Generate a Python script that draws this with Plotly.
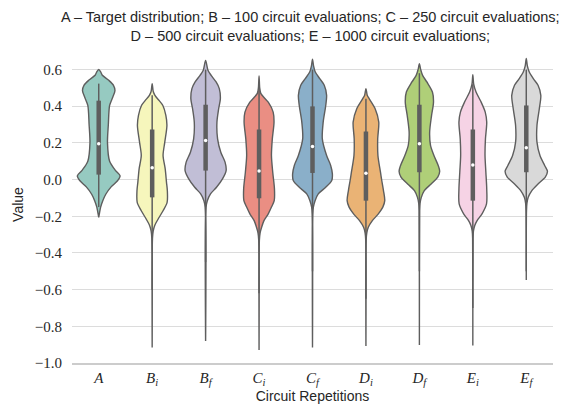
import colorsys
import plotly.graph_objects as go

# Category labels (math style) and names
categories = ["A", "B_i", "B_f", "C_i", "C_f", "D_i", "D_f", "E_i", "E_f"]
tick_labels = [
    "<i>A</i>",
    "<i>B</i><sub><i>i</i></sub>", "<i>B</i><sub><i>f</i></sub>",
    "<i>C</i><sub><i>i</i></sub>", "<i>C</i><sub><i>f</i></sub>",
    "<i>D</i><sub><i>i</i></sub>", "<i>D</i><sub><i>f</i></sub>",
    "<i>E</i><sub><i>i</i></sub>", "<i>E</i><sub><i>f</i></sub>",
]

# Density profiles: value levels and relative density (1.0 = widest violin)
A_y = [0.600, 0.585, 0.570, 0.541, 0.514, 0.486, 0.450, 0.404, 0.30, 0.20, 0.10, 0.05, 0.02, -0.005, -0.04, -0.08, -0.115, -0.15, -0.18, -0.206]
A_d = [0.0, 0.10, 0.16, 0.47, 0.69, 0.76, 0.66, 0.51, 0.45, 0.41, 0.51, 0.78, 1.0, 0.89, 0.58, 0.33, 0.19, 0.09, 0.04, 0.0]

Bi_y = [0.523, 0.48, 0.459, 0.43, 0.404, 0.35, 0.295, 0.204, 0.131, 0.058, -0.015, -0.06, -0.124, -0.17, -0.215, -0.25, -0.28, -0.32, -0.916]
Bi_d = [0.0, 0.05, 0.13, 0.33, 0.50, 0.64, 0.69, 0.59, 0.51, 0.61, 0.67, 0.71, 0.70, 0.51, 0.28, 0.12, 0.05, 0.015, 0.0]

Bf_y = [0.65, 0.596, 0.568, 0.532, 0.496, 0.44, 0.386, 0.313, 0.222, 0.149, 0.095, 0.049, 0.004, -0.042, -0.078, -0.115, -0.15, -0.88]
Bf_d = [0.0, 0.11, 0.26, 0.49, 0.64, 0.69, 0.61, 0.53, 0.56, 0.71, 0.91, 0.96, 0.79, 0.51, 0.23, 0.08, 0.02, 0.0]

Ci_y = [0.565, 0.50, 0.47, 0.445, 0.422, 0.368, 0.313, 0.222, 0.131, 0.04, -0.05, -0.115, -0.15, -0.187, -0.224, -0.26, -0.29, -0.33, -0.929]
Ci_d = [0.0, 0.03, 0.08, 0.25, 0.43, 0.66, 0.70, 0.62, 0.58, 0.64, 0.72, 0.71, 0.58, 0.43, 0.23, 0.12, 0.05, 0.015, 0.0]

Cf_y = [0.656, 0.62, 0.586, 0.55, 0.514, 0.459, 0.404, 0.313, 0.222, 0.131, 0.077, 0.031, -0.005, -0.042, -0.078, -0.115, -0.15, -0.19, -0.916]
Cf_d = [0.0, 0.05, 0.13, 0.34, 0.55, 0.66, 0.62, 0.50, 0.46, 0.66, 0.85, 0.93, 0.90, 0.62, 0.27, 0.12, 0.04, 0.01, 0.0]

Di_y = [0.496, 0.46, 0.441, 0.386, 0.313, 0.222, 0.131, 0.04, -0.005, -0.06, -0.115, -0.15, -0.187, -0.224, -0.26, -0.29, -0.33, -0.907]
Di_d = [0.0, 0.06, 0.15, 0.43, 0.60, 0.55, 0.56, 0.68, 0.74, 0.82, 0.88, 0.79, 0.58, 0.30, 0.11, 0.04, 0.01, 0.0]

Df_y = [0.632, 0.60, 0.568, 0.532, 0.477, 0.422, 0.35, 0.259, 0.186, 0.131, 0.077, 0.045, 0.013, -0.024, -0.06, -0.097, -0.13, -0.17, -0.902]
Df_d = [0.0, 0.06, 0.15, 0.35, 0.61, 0.66, 0.57, 0.48, 0.52, 0.68, 0.88, 0.95, 0.86, 0.55, 0.23, 0.09, 0.03, 0.01, 0.0]

Ei_y = [0.572, 0.52, 0.477, 0.422, 0.368, 0.313, 0.222, 0.131, 0.04, -0.05, -0.133, -0.187, -0.224, -0.25, -0.28, -0.32, -0.904]
Ei_d = [0.0, 0.04, 0.15, 0.39, 0.58, 0.65, 0.59, 0.57, 0.61, 0.65, 0.64, 0.43, 0.20, 0.09, 0.03, 0.01, 0.0]

Ef_y = [0.66, 0.62, 0.586, 0.55, 0.514, 0.459, 0.386, 0.295, 0.204, 0.131, 0.077, 0.045, 0.013, -0.024, -0.06, -0.097, -0.13, -0.17, -0.548]
Ef_d = [0.0, 0.05, 0.14, 0.33, 0.55, 0.68, 0.61, 0.50, 0.50, 0.64, 0.86, 0.99, 0.89, 0.55, 0.26, 0.09, 0.03, 0.01, 0.0]

profiles_y = [A_y, Bi_y, Bf_y, Ci_y, Cf_y, Di_y, Df_y, Ei_y, Ef_y]
profiles_d = [A_d, Bi_d, Bf_d, Ci_d, Cf_d, Di_d, Df_d, Ei_d, Ef_d]

# Box statistics per category
q1 = [0.027, -0.097, 0.049, -0.102, 0.036, -0.115, 0.040, -0.115, 0.040]
median = [0.195, 0.064, 0.213, 0.047, 0.180, 0.035, 0.195, 0.080, 0.173]
q3 = [0.430, 0.273, 0.408, 0.273, 0.399, 0.262, 0.408, 0.273, 0.404]
whisker_lo = [-0.150, -0.600, -0.450, -0.620, -0.500, -0.650, -0.500, -0.700, -0.500]
whisker_hi = [0.523, 0.460, 0.600, 0.500, 0.600, 0.440, 0.580, 0.520, 0.600]

# Set3 palette, desaturated like seaborn's default
set3 = ["#8dd3c7", "#ffffb3", "#bebada", "#fb8072", "#80b1d3",
        "#fdb462", "#b3de69", "#fccde5", "#d9d9d9"]


def desaturate(hex_color, prop=0.75):
    r, g, b = (int(hex_color[i:i + 2], 16) / 255 for i in (1, 3, 5))
    h, l, s = colorsys.rgb_to_hls(r, g, b)
    r, g, b = colorsys.hls_to_rgb(h, l, s * prop)
    return "rgb({},{},{})".format(round(r * 255), round(g * 255), round(b * 255))


fill_colors = [desaturate(c) for c in set3]
edge = "#5e5e5e"
half_width = 0.4
sans = "Liberation Sans, Arial, sans-serif"
serif = "Liberation Serif, Times New Roman, serif"

fig = go.Figure()

for i, (ys, ds) in enumerate(zip(profiles_y, profiles_d)):
    xs_right = [i + half_width * d for d in ds]
    xs_left = [i - half_width * d for d in reversed(ds)]
    fig.add_trace(go.Scatter(
        x=xs_right + xs_left,
        y=list(ys) + list(reversed(ys)),
        mode="lines",
        fill="toself",
        fillcolor=fill_colors[i],
        line=dict(color=edge, width=1.4, shape="spline", smoothing=0.8),
        hoverinfo="skip",
        showlegend=False,
    ))
    # whisker
    fig.add_trace(go.Scatter(
        x=[i, i], y=[whisker_lo[i], whisker_hi[i]], mode="lines",
        line=dict(color=edge, width=1.5), showlegend=False, hoverinfo="skip"))
    # interquartile box
    fig.add_trace(go.Scatter(
        x=[i, i], y=[q1[i], q3[i]], mode="lines",
        line=dict(color=edge, width=4.5), showlegend=False, hoverinfo="skip"))
    # median
    fig.add_trace(go.Scatter(
        x=[i], y=[median[i]], mode="markers",
        marker=dict(color="white", size=3.5, line=dict(width=0)),
        showlegend=False, hoverinfo="skip"))

title_text = ("A – Target distribution; B – 100 circuit evaluations; C – 250 circuit evaluations;"
              "<br>D – 500 circuit evaluations; E – 1000 circuit evaluations;")

fig.add_annotation(
    text=title_text, xref="paper", yref="paper", x=0.495, y=1.0,
    xanchor="center", yanchor="bottom", yshift=7, showarrow=False, align="center",
    font=dict(family=sans, size=14.5, color="#262626"),
)

# y-axis label
fig.add_annotation(
    text="Value", xref="paper", yref="paper", x=0, y=0.51,
    xanchor="center", yanchor="middle", xshift=-54, textangle=-90, showarrow=False,
    font=dict(family=sans, size=14, color="#262626"),
)

fig.update_layout(
    width=570, height=404,
    margin=dict(l=72, r=17, t=53, b=41),
    paper_bgcolor="white", plot_bgcolor="white",
    xaxis=dict(
        range=[-0.5, 8.5], automargin=False,
        tickmode="array", tickvals=list(range(len(categories))), ticktext=tick_labels,
        tickfont=dict(family=serif, size=15, color="#262626"),
        showgrid=False, zeroline=False,
        showline=True, linecolor="#cccccc", linewidth=1.5,
        ticks="", ticklabelstandoff=0,
        title=dict(text="Circuit Repetitions", standoff=5,
                   font=dict(family=sans, size=14, color="#262626")),
    ),
    yaxis=dict(
        range=[-1.0, 0.69], automargin=False,
        tickmode="array", tickvals=[-1.0, -0.8, -0.6, -0.4, -0.2, 0.0, 0.2, 0.4, 0.6],
        tickformat=".1f",
        tickfont=dict(family=serif, size=15, color="#262626"),
        showgrid=True, gridcolor="#dcdcdc", gridwidth=1.2,
        zeroline=False, showline=False, ticks="", ticklabelstandoff=9,
    ),
)

fig.write_html("out.html")
